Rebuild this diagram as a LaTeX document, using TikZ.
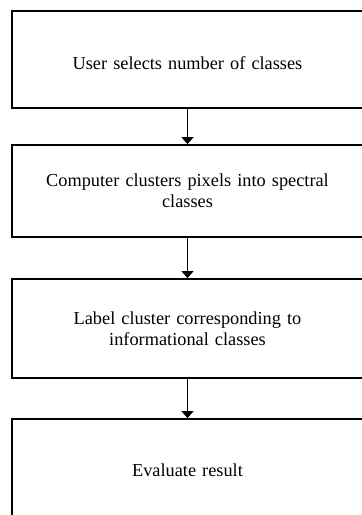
\documentclass[tikz,border=0pt]{standalone}
\usepackage{fontspec}
\setmainfont[WordSpace=0.75]{Liberation Serif}
\usetikzlibrary{arrows.meta,positioning}

\tikzset{
  stepbox/.style={draw, line width=1.8pt, minimum width=351pt, align=center,
    text width=330pt, font=\fontsize{18.3}{21}\selectfont},
  flow/.style={line width=1pt, -{Triangle[width=12pt,length=7pt]}}
}

\begin{document}
\begin{tikzpicture}[x=1pt,y=1pt]
  \useasboundingbox (0,0) rectangle (362,-515);
  \clip (0,0) rectangle (362,-515);
  % the four steps, top to bottom
  \foreach [count=\i] \txt/\yc/\bh in {
      {\raisebox{-4pt}[\height][\depth]{User selects number of classes}}/59.5/97,
      {Computer clusters pixels into spectral\\classes}/191/92,
      {Label cluster corresponding to\\informational classes}/328.5/99,
      {Evaluate result}/470/102} {
    \node[stepbox, minimum height=\bh] (s\i) at (187.5,-\yc) {\txt};
  }
  % connectors
  \foreach \i/\j in {1/2,2/3,3/4}
    \draw[flow] (s\i) -- (s\j);
\end{tikzpicture}
\end{document}
